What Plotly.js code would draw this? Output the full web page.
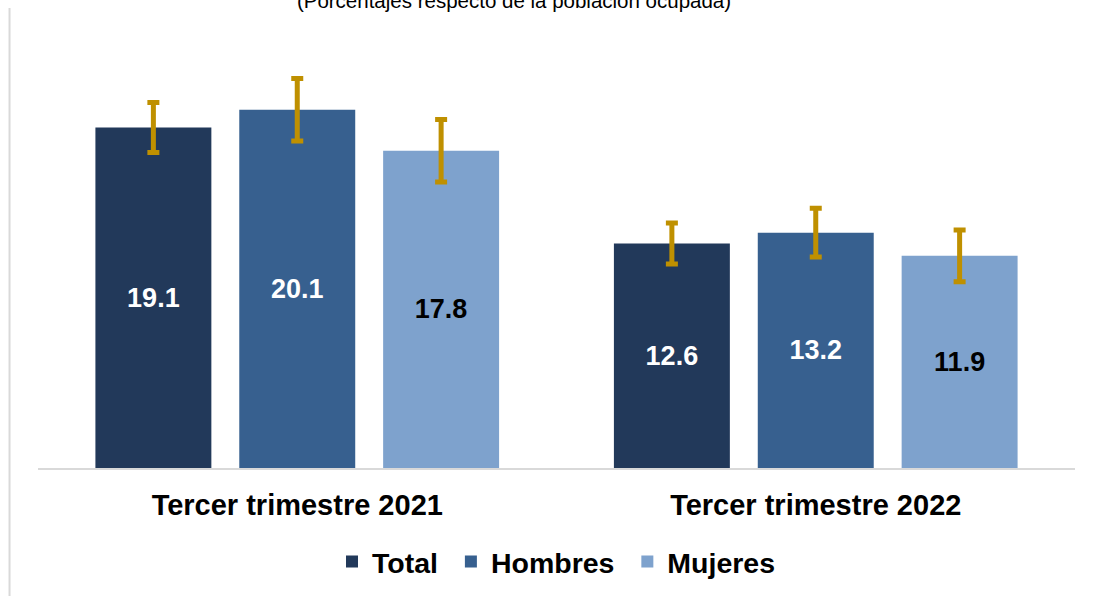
<!DOCTYPE html>
<html>
<head>
<meta charset="utf-8">
<script src="https://cdn.plot.ly/plotly-3.0.1.min.js"></script>
<style>
html,body{margin:0;padding:0;background:#fff;}
#chart{width:1096px;height:596px;}
</style>
</head>
<body>
<div id="chart"></div>
<script>
const categories = ["Tercer trimestre 2021", "Tercer trimestre 2022"];
const seriesNames = ["Total", "Hombres", "Mujeres"];
const totalValues = [19.1, 12.6];
const hombresValues = [20.1, 13.2];
const mujeresValues = [17.8, 11.9];
const totalErrors = [1.4, 1.15];
const hombresErrors = [1.75, 1.37];
const mujeresErrors = [1.75, 1.45];
const titleText = "(Porcentajes respecto de la población ocupada)";

const colors = ["#22395A", "#37608F", "#7EA2CD"];
const labelColors = ["#FFFFFF", "#FFFFFF", "#000000"];
const values = [totalValues, hombresValues, mujeresValues];
const errors = [totalErrors, hombresErrors, mujeresErrors];
const FONT = "Liberation Sans, Arial, sans-serif";

const traces = seriesNames.map((name, i) => ({
  type: "bar",
  name: name + "\u00a0",
  x: categories,
  y: values[i],
  text: values[i].map(v => v.toFixed(1)),
  textposition: "inside",
  insidetextanchor: "middle",
  textfont: {family: FONT, size: 27, color: labelColors[i], weight: "bold"},
  marker: {color: colors[i]},
  error_y: {type: "data", array: errors[i], visible: true, color: "#BF9000", thickness: 5, width: 6},
  hoverinfo: "none"
}));

const layout = {
  width: 1096,
  height: 596,
  margin: {l: 37.5, r: 20.5, t: 58, b: 128},
  paper_bgcolor: "#FFFFFF",
  plot_bgcolor: "#FFFFFF",
  barmode: "group",
  bargap: 0.1676,
  bargroupgap: 0.194,
  font: {family: FONT, color: "#000000"},
  title: {
    text: titleText,
    font: {family: FONT, size: 20.5, color: "#000000"},
    x: 514 / 1096, xref: "container", xanchor: "center",
    y: 0.998, yref: "container", yanchor: "middle"
  },
  xaxis: {
    showline: true, linecolor: "#D9D9D9", linewidth: 1.5,
    ticks: "", showgrid: false, zeroline: false,
    tickfont: {family: FONT, size: 29, color: "#000000", weight: "bold"},
    ticklabelstandoff: 11
  },
  yaxis: {
    range: [0, 23], showticklabels: false, showgrid: false,
    zeroline: false, showline: false, ticks: "", fixedrange: true
  },
  showlegend: true,
  legend: {
    orientation: "h",
    xref: "container", x: 332 / 1096, xanchor: "left",
    yref: "container", y: (596 - 562) / 596, yanchor: "middle",
    font: {family: FONT, size: 28.5, color: "#000000", weight: "bold"},
    itemclick: false, itemdoubleclick: false
  },
  shapes: [{
    type: "line", xref: "paper", yref: "paper",
    x0: (9 - 37.5) / 1038, x1: (9 - 37.5) / 1038,
    y0: (468 - 8) / 410, y1: (468 - 600) / 410,
    line: {color: "#D9D9D9", width: 2}
  }]
};

Plotly.newPlot("chart", traces, layout, {displayModeBar: false, staticPlot: true});
</script>
</body>
</html>
